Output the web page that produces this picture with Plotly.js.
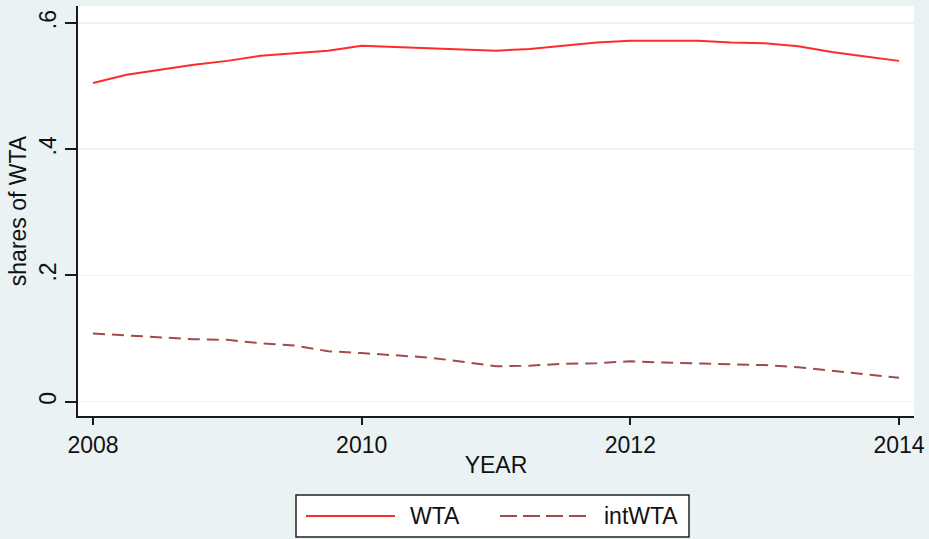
<!DOCTYPE html>
<html>
<head>
<meta charset="utf-8">
<script src="https://cdn.plot.ly/plotly-3.0.1.min.js"></script>
<style>html,body{margin:0;padding:0;background:#EAF2F3;}#chart{width:929px;height:539px;}</style>
</head>
<body>
<div id="chart"></div>
<script>
// ---- data ----
const years = [2008, 2008.25, 2008.5, 2008.75, 2009, 2009.25, 2009.5, 2009.75, 2010, 2010.25, 2010.5, 2010.75, 2011,
               2011.25, 2011.5, 2011.75, 2012, 2012.25, 2012.5, 2012.75, 2013, 2013.25, 2013.5, 2013.75, 2014];
const wta = [0.505, 0.518, 0.526, 0.534, 0.540, 0.548, 0.552, 0.556, 0.564, 0.562, 0.559, 0.557, 0.556,
             0.559, 0.564, 0.569, 0.572, 0.5725, 0.572, 0.569, 0.568, 0.563, 0.554, 0.547, 0.540];
const intWta = [0.108, 0.105, 0.102, 0.099, 0.098, 0.0925, 0.089, 0.080, 0.077, 0.073, 0.070, 0.0634, 0.056,
                0.057, 0.060, 0.061, 0.064, 0.062, 0.061, 0.060, 0.058, 0.0545, 0.0487, 0.043, 0.038];
const seriesNames = ["WTA", "intWTA"];
const xTickVals = [2008, 2010, 2012, 2014];
const yTickVals = [0, 0.2, 0.4, 0.6];
const yTickText = ["0", ".2", ".4", ".6"];
const xTitle = "YEAR";
const yTitle = "shares of WTA";

// ---- layout geometry (pixels) ----
const W = 929, H = 539;
const L = 78, R = 914, T = 6, B = 416;
const pw = R - L, ph = B - T;
const px = x => (x - L) / pw;
const py = y => (B - y) / ph;

const font = "Arial, 'Liberation Sans', sans-serif";
const txtColor = "#111111";
const colWTA = "#FF2A2A";
const colInt = "#A34A4A";

const traces = [
  {x: years, y: wta, name: seriesNames[0], type: "scatter", mode: "lines",
   line: {color: colWTA, width: 2}, showlegend: false},
  {x: years, y: intWta, name: seriesNames[1], type: "scatter", mode: "lines",
   line: {color: colInt, width: 2, dash: "12px,7px"}, showlegend: false}
];

// custom legend (Stata style)
const legBox = {x0: 296, x1: 689, y0: 495, y1: 537};
const legY = 516;
const shapes = [
  {type: "rect", xref: "paper", yref: "paper", x0: px(legBox.x0), x1: px(legBox.x1), y0: py(legBox.y1), y1: py(legBox.y0),
   fillcolor: "white", line: {color: "#222222", width: 1.5}, layer: "above"},
  {type: "line", xref: "paper", yref: "paper", x0: px(306), x1: px(395), y0: py(legY), y1: py(legY),
   line: {color: colWTA, width: 2}},
  {type: "line", xref: "paper", yref: "paper", x0: px(500), x1: px(590), y0: py(legY), y1: py(legY),
   line: {color: colInt, width: 2, dash: "17px,6px"}}
];
const annotations = [
  {xref: "paper", yref: "paper", x: px(408), y: py(legY), xanchor: "left", yanchor: "middle", showarrow: false,
   text: seriesNames[0], font: {family: font, size: 23, color: txtColor}},
  {xref: "paper", yref: "paper", x: px(602), y: py(legY), xanchor: "left", yanchor: "middle", showarrow: false,
   text: seriesNames[1], font: {family: font, size: 23, color: txtColor}}
];

const layout = {
  width: W, height: H,
  margin: {l: L, r: W - R, t: T, b: H - B, pad: 0},
  paper_bgcolor: "#EAF2F3",
  plot_bgcolor: "#FFFFFF",
  font: {family: font, size: 23, color: txtColor},
  showlegend: false,
  xaxis: {
    range: [2008 - 15 / 134.33, 2014 + 15 / 134.33],
    tickvals: xTickVals, ticktext: xTickVals.map(String),
    showgrid: false, zeroline: false,
    showline: true, linecolor: "#1a1a1a", linewidth: 2,
    ticks: "outside", ticklen: 7, tickwidth: 2, tickcolor: "#1a1a1a",
    tickfont: {family: font, size: 23, color: txtColor},
    title: {text: xTitle, font: {family: font, size: 23, color: txtColor}, standoff: 0}
  },
  yaxis: {
    range: [-14.3 / 631, 0.6 + 17 / 631],
    tickvals: yTickVals, ticktext: yTickText, tickangle: -90,
    showgrid: true, gridcolor: "#EAF2F3", gridwidth: 1.5, zeroline: false,
    showline: true, linecolor: "#1a1a1a", linewidth: 2,
    ticks: "outside", ticklen: 11, tickwidth: 2, tickcolor: "#1a1a1a",
    tickfont: {family: font, size: 23, color: txtColor},
    title: {text: yTitle, font: {family: font, size: 23, color: txtColor}, standoff: 2}
  },
  shapes: shapes,
  annotations: annotations
};

Plotly.newPlot("chart", traces, layout, {displayModeBar: false, staticPlot: true});
</script>
</body>
</html>
